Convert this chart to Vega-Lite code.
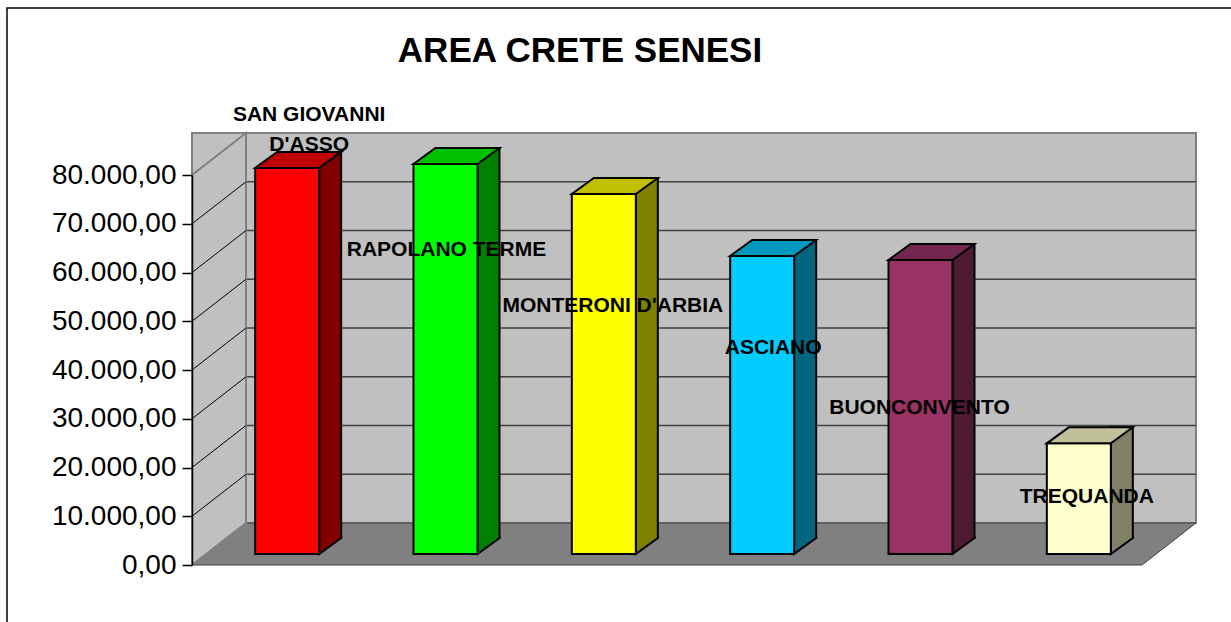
{
  "$schema": "https://vega.github.io/schema/vega-lite/v6.json",
  "width": 950,
  "height": 390,
  "autosize": {"type": "none"},
  "padding": {"left": 192, "top": 175, "right": 89, "bottom": 57},
  "background": "white",
  "title": {
    "text": "AREA CRETE SENESI",
    "font": "Liberation Sans",
    "fontSize": 35,
    "fontWeight": "bold",
    "color": "#000000",
    "anchor": "middle",
    "frame": "group",
    "baseline": "alphabetic",
    "dx": -87,
    "offset": -92
  },
  "config": {
    "view": {"stroke": null},
    "locale": {"number": {"decimal": ",", "thousands": ".", "grouping": [3], "currency": ["€", ""]}},
    "axisY": {
      "labelFont": "Liberation Sans", "labelFontSize": 28, "labelColor": "#000000",
      "labelPadding": 6, "labelFlush": false, "labelOverlap": false,
      "tickSize": 10, "tickColor": "#000000", "tickWidth": 1.5,
      "domainColor": "#000000", "domainWidth": 1.5, "grid": false
    }
  },
  "datasets": {
    "comuni": [
      {"comune": "SAN GIOVANNI D'ASSO", "valore": 79200},
      {"comune": "RAPOLANO TERME", "valore": 80000},
      {"comune": "MONTERONI D'ARBIA", "valore": 73850},
      {"comune": "ASCIANO", "valore": 61130},
      {"comune": "BUONCONVENTO", "valore": 60300},
      {"comune": "TREQUANDA", "valore": 22700}
    ],
    "griglia": [
      {"v": 10000}, {"v": 20000}, {"v": 30000}, {"v": 40000},
      {"v": 50000}, {"v": 60000}, {"v": 70000}
    ]
  },
  "resolve": {"scale": {"color": "independent"}},
  "layer": [
    {
      "data": {"values": [{}]},
      "mark": {"type": "point", "shape": "M-660,75 L-660,-557 L573,-557 L573,75 Z", "size": 4, "filled": false, "stroke": "#000000", "strokeWidth": 1.5, "opacity": 1},
      "encoding": {
        "y": {"datum": 0, "type": "quantitative", "scale": {"domain": [0, 80000], "nice": false}, "axis": {"title": null, "values": [0, 10000, 20000, 30000, 40000, 50000, 60000, 70000, 80000], "format": ",.2f", "zindex": 1}}
      }
    },
    {
      "data": {"values": [{}]},
      "mark": {"type": "rect", "fill": "#C0C0C0", "stroke": "#808080", "strokeWidth": 2, "xOffset": 54, "x2Offset": 54, "yOffset": -42, "y2Offset": -42},
      "encoding": {
        "y": {"datum": 80000, "type": "quantitative", "scale": {"domain": [0, 80000], "nice": false}, "axis": {"title": null, "values": [0, 10000, 20000, 30000, 40000, 50000, 60000, 70000, 80000], "format": ",.2f", "zindex": 1}},
        "y2": {"datum": 0}
      }
    },
    {
      "data": {"name": "griglia"},
      "mark": {"type": "rule", "stroke": "#404040", "strokeWidth": 1.5, "xOffset": 54, "x2Offset": 54, "yOffset": -42},
      "encoding": {
        "y": {"field": "v", "type": "quantitative", "scale": {"domain": [0, 80000], "nice": false}, "axis": {"title": null, "values": [0, 10000, 20000, 30000, 40000, 50000, 60000, 70000, 80000], "format": ",.2f", "zindex": 1}}
      }
    },
    {
      "data": {"values": [{}]},
      "mark": {"type": "point", "shape": "M-475,0 L475,0 L529,-42 L-421,-42 Z", "size": 4, "filled": true, "fill": "#808080", "stroke": "#404040", "strokeWidth": 1, "opacity": 1},
      "encoding": {
        "y": {"datum": 0, "type": "quantitative", "scale": {"domain": [0, 80000], "nice": false}, "axis": {"title": null, "values": [0, 10000, 20000, 30000, 40000, 50000, 60000, 70000, 80000], "format": ",.2f", "zindex": 1}}
      }
    },
    {
      "data": {"values": [{}]},
      "mark": {"type": "point", "shape": "M-475,0 L-475,-390 L-421,-432 L-421,-42 Z", "size": 4, "filled": true, "fill": "#C0C0C0", "stroke": "#808080", "strokeWidth": 2, "opacity": 1},
      "encoding": {
        "y": {"datum": 0, "type": "quantitative", "scale": {"domain": [0, 80000], "nice": false}, "axis": {"title": null, "values": [0, 10000, 20000, 30000, 40000, 50000, 60000, 70000, 80000], "format": ",.2f", "zindex": 1}}
      }
    },
    {
      "data": {"name": "griglia"},
      "mark": {"type": "point", "shape": "M-475,0 L-421,-42", "size": 4, "filled": false, "stroke": "#000000", "strokeWidth": 1, "opacity": 1},
      "encoding": {
        "y": {"field": "v", "type": "quantitative", "scale": {"domain": [0, 80000], "nice": false}, "axis": {"title": null, "values": [0, 10000, 20000, 30000, 40000, 50000, 60000, 70000, 80000], "format": ",.2f", "zindex": 1}}
      }
    },
    {
      "data": {"name": "comuni"},
      "mark": {"type": "bar", "width": 22, "xOffset": 59, "yOffset": -27, "y2Offset": -27, "stroke": "#000000", "strokeWidth": 2, "opacity": 1},
      "encoding": {
        "x": {"field": "comune", "type": "nominal", "axis": null, "scale": {"domain": ["SAN GIOVANNI D'ASSO", "RAPOLANO TERME", "MONTERONI D'ARBIA", "ASCIANO", "BUONCONVENTO", "TREQUANDA"], "paddingInner": 0, "paddingOuter": 0}},
        "y": {"field": "valore", "type": "quantitative", "scale": {"domain": [0, 80000], "nice": false}, "axis": {"title": null, "values": [0, 10000, 20000, 30000, 40000, 50000, 60000, 70000, 80000], "format": ",.2f", "zindex": 1}},
        "color": {"field": "comune", "type": "nominal", "legend": null, "scale": {"domain": ["SAN GIOVANNI D'ASSO", "RAPOLANO TERME", "MONTERONI D'ARBIA", "ASCIANO", "BUONCONVENTO", "TREQUANDA"], "range": ["#800000", "#008000", "#808000", "#006680", "#4D1A33", "#808066"]}}
      }
    },
    {
      "data": {"name": "comuni"},
      "mark": {"type": "point", "shape": "M70,-29 L70,-27 L48,-11 L48,-29", "size": 4, "filled": true, "stroke": "#000000", "strokeWidth": 2, "opacity": 1},
      "encoding": {
        "x": {"field": "comune", "type": "nominal", "axis": null, "scale": {"domain": ["SAN GIOVANNI D'ASSO", "RAPOLANO TERME", "MONTERONI D'ARBIA", "ASCIANO", "BUONCONVENTO", "TREQUANDA"], "paddingInner": 0, "paddingOuter": 0}},
        "y": {"datum": 0, "type": "quantitative", "scale": {"domain": [0, 80000], "nice": false}, "axis": {"title": null, "values": [0, 10000, 20000, 30000, 40000, 50000, 60000, 70000, 80000], "format": ",.2f", "zindex": 1}},
        "color": {"field": "comune", "type": "nominal", "legend": null, "scale": {"domain": ["SAN GIOVANNI D'ASSO", "RAPOLANO TERME", "MONTERONI D'ARBIA", "ASCIANO", "BUONCONVENTO", "TREQUANDA"], "range": ["#800000", "#008000", "#808000", "#006680", "#4D1A33", "#808066"]}}
      }
    },
    {
      "data": {"name": "comuni"},
      "mark": {"type": "bar", "width": 64, "xOffset": 16, "yOffset": -11, "y2Offset": -11, "stroke": "#000000", "strokeWidth": 2, "opacity": 1},
      "encoding": {
        "x": {"field": "comune", "type": "nominal", "axis": null, "scale": {"domain": ["SAN GIOVANNI D'ASSO", "RAPOLANO TERME", "MONTERONI D'ARBIA", "ASCIANO", "BUONCONVENTO", "TREQUANDA"], "paddingInner": 0, "paddingOuter": 0}},
        "y": {"field": "valore", "type": "quantitative", "scale": {"domain": [0, 80000], "nice": false}, "axis": {"title": null, "values": [0, 10000, 20000, 30000, 40000, 50000, 60000, 70000, 80000], "format": ",.2f", "zindex": 1}},
        "color": {"field": "comune", "type": "nominal", "legend": null, "scale": {"domain": ["SAN GIOVANNI D'ASSO", "RAPOLANO TERME", "MONTERONI D'ARBIA", "ASCIANO", "BUONCONVENTO", "TREQUANDA"], "range": ["#FF0000", "#00FF00", "#FFFF00", "#00CCFF", "#993366", "#FFFFCC"]}}
      }
    },
    {
      "data": {"name": "comuni"},
      "mark": {"type": "point", "shape": "M-16,-11 L48,-11 L70,-27 L6,-27 Z", "size": 4, "filled": true, "stroke": "#000000", "strokeWidth": 2, "opacity": 1},
      "encoding": {
        "x": {"field": "comune", "type": "nominal", "axis": null, "scale": {"domain": ["SAN GIOVANNI D'ASSO", "RAPOLANO TERME", "MONTERONI D'ARBIA", "ASCIANO", "BUONCONVENTO", "TREQUANDA"], "paddingInner": 0, "paddingOuter": 0}},
        "y": {"field": "valore", "type": "quantitative", "scale": {"domain": [0, 80000], "nice": false}, "axis": {"title": null, "values": [0, 10000, 20000, 30000, 40000, 50000, 60000, 70000, 80000], "format": ",.2f", "zindex": 1}},
        "color": {"field": "comune", "type": "nominal", "legend": null, "scale": {"domain": ["SAN GIOVANNI D'ASSO", "RAPOLANO TERME", "MONTERONI D'ARBIA", "ASCIANO", "BUONCONVENTO", "TREQUANDA"], "range": ["#C00000", "#00C000", "#C0C000", "#0099C0", "#732650", "#C0C099"]}}
      }
    },
    {
      "data": {"name": "comuni"},
      "transform": [
        {"filter": {"field": "comune", "equal": "SAN GIOVANNI D'ASSO"}},
        {"calculate": "replace(datum.comune, 'I D', 'I|D')", "as": "etichetta"}
      ],
      "mark": {"type": "text", "font": "Liberation Sans", "fontSize": 21, "fontWeight": "bold", "color": "#000000", "align": "center", "baseline": "alphabetic", "lineBreak": "|", "lineHeight": 30, "dx": 38, "dy": -58},
      "encoding": {
        "x": {"field": "comune", "type": "nominal", "axis": null, "scale": {"domain": ["SAN GIOVANNI D'ASSO", "RAPOLANO TERME", "MONTERONI D'ARBIA", "ASCIANO", "BUONCONVENTO", "TREQUANDA"], "paddingInner": 0, "paddingOuter": 0}},
        "y": {"field": "valore", "type": "quantitative", "scale": {"domain": [0, 80000], "nice": false}, "axis": {"title": null, "values": [0, 10000, 20000, 30000, 40000, 50000, 60000, 70000, 80000], "format": ",.2f", "zindex": 1}},
        "text": {"field": "etichetta"}
      }
    },
    {
      "data": {"name": "comuni"},
      "transform": [{"filter": {"field": "comune", "equal": "RAPOLANO TERME"}}],
      "mark": {"type": "text", "font": "Liberation Sans", "fontSize": 21, "fontWeight": "bold", "color": "#000000", "align": "center", "baseline": "alphabetic", "dx": 17, "dy": 81},
      "encoding": {
        "x": {"field": "comune", "type": "nominal", "axis": null, "scale": {"domain": ["SAN GIOVANNI D'ASSO", "RAPOLANO TERME", "MONTERONI D'ARBIA", "ASCIANO", "BUONCONVENTO", "TREQUANDA"], "paddingInner": 0, "paddingOuter": 0}},
        "y": {"field": "valore", "type": "quantitative", "scale": {"domain": [0, 80000], "nice": false}, "axis": {"title": null, "values": [0, 10000, 20000, 30000, 40000, 50000, 60000, 70000, 80000], "format": ",.2f", "zindex": 1}},
        "text": {"field": "comune"}
      }
    },
    {
      "data": {"name": "comuni"},
      "transform": [{"filter": {"field": "comune", "equal": "MONTERONI D'ARBIA"}}],
      "mark": {"type": "text", "font": "Liberation Sans", "fontSize": 21, "fontWeight": "bold", "color": "#000000", "align": "center", "baseline": "alphabetic", "dx": 25, "dy": 107},
      "encoding": {
        "x": {"field": "comune", "type": "nominal", "axis": null, "scale": {"domain": ["SAN GIOVANNI D'ASSO", "RAPOLANO TERME", "MONTERONI D'ARBIA", "ASCIANO", "BUONCONVENTO", "TREQUANDA"], "paddingInner": 0, "paddingOuter": 0}},
        "y": {"field": "valore", "type": "quantitative", "scale": {"domain": [0, 80000], "nice": false}, "axis": {"title": null, "values": [0, 10000, 20000, 30000, 40000, 50000, 60000, 70000, 80000], "format": ",.2f", "zindex": 1}},
        "text": {"field": "comune"}
      }
    },
    {
      "data": {"name": "comuni"},
      "transform": [{"filter": {"field": "comune", "equal": "ASCIANO"}}],
      "mark": {"type": "text", "font": "Liberation Sans", "fontSize": 21, "fontWeight": "bold", "color": "#000000", "align": "center", "baseline": "alphabetic", "dx": 27, "dy": 87},
      "encoding": {
        "x": {"field": "comune", "type": "nominal", "axis": null, "scale": {"domain": ["SAN GIOVANNI D'ASSO", "RAPOLANO TERME", "MONTERONI D'ARBIA", "ASCIANO", "BUONCONVENTO", "TREQUANDA"], "paddingInner": 0, "paddingOuter": 0}},
        "y": {"field": "valore", "type": "quantitative", "scale": {"domain": [0, 80000], "nice": false}, "axis": {"title": null, "values": [0, 10000, 20000, 30000, 40000, 50000, 60000, 70000, 80000], "format": ",.2f", "zindex": 1}},
        "text": {"field": "comune"}
      }
    },
    {
      "data": {"name": "comuni"},
      "transform": [{"filter": {"field": "comune", "equal": "BUONCONVENTO"}}],
      "mark": {"type": "text", "font": "Liberation Sans", "fontSize": 21, "fontWeight": "bold", "color": "#000000", "align": "center", "baseline": "alphabetic", "dx": 15, "dy": 143},
      "encoding": {
        "x": {"field": "comune", "type": "nominal", "axis": null, "scale": {"domain": ["SAN GIOVANNI D'ASSO", "RAPOLANO TERME", "MONTERONI D'ARBIA", "ASCIANO", "BUONCONVENTO", "TREQUANDA"], "paddingInner": 0, "paddingOuter": 0}},
        "y": {"field": "valore", "type": "quantitative", "scale": {"domain": [0, 80000], "nice": false}, "axis": {"title": null, "values": [0, 10000, 20000, 30000, 40000, 50000, 60000, 70000, 80000], "format": ",.2f", "zindex": 1}},
        "text": {"field": "comune"}
      }
    },
    {
      "data": {"name": "comuni"},
      "transform": [{"filter": {"field": "comune", "equal": "TREQUANDA"}}],
      "mark": {"type": "text", "font": "Liberation Sans", "fontSize": 21, "fontWeight": "bold", "color": "#000000", "align": "center", "baseline": "alphabetic", "dx": 24, "dy": 49},
      "encoding": {
        "x": {"field": "comune", "type": "nominal", "axis": null, "scale": {"domain": ["SAN GIOVANNI D'ASSO", "RAPOLANO TERME", "MONTERONI D'ARBIA", "ASCIANO", "BUONCONVENTO", "TREQUANDA"], "paddingInner": 0, "paddingOuter": 0}},
        "y": {"field": "valore", "type": "quantitative", "scale": {"domain": [0, 80000], "nice": false}, "axis": {"title": null, "values": [0, 10000, 20000, 30000, 40000, 50000, 60000, 70000, 80000], "format": ",.2f", "zindex": 1}},
        "text": {"field": "comune"}
      }
    }
  ]
}
